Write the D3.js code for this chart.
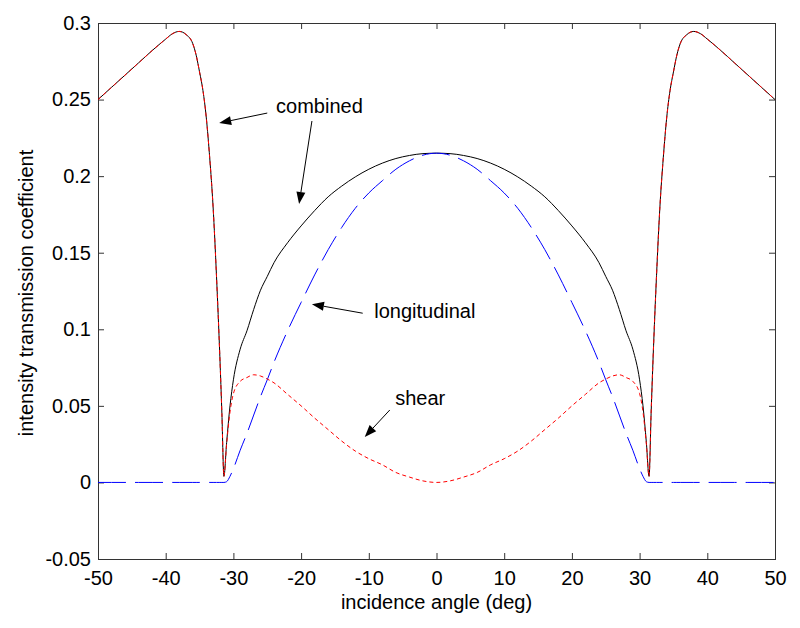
<!DOCTYPE html>
<html><head><meta charset="utf-8">
<script src="https://cdn.jsdelivr.net/npm/d3@7/dist/d3.min.js"></script>
<style>body{margin:0;background:#fff} text{font-family:"Liberation Sans",Arial,Helvetica,sans-serif}</style>
</head><body><svg id="c" width="800" height="628"></svg>
<script>
// ---- data ----
const angles = [-50,-48,-46,-44,-42,-40,-39,-38,-37,-36,-35.5,-35,-34.5,-34,-33.5,-33,-32.5,-32,-31.7,-31.4,-31,-30.5,-30,-29,-28,-27,-26,-25,-24,-22,-20,-18,-16,-14,-12,-10,-8,-6,-4,-2,0,
  2,4,6,8,10,12,14,16,18,20,22,24,25,26,27,28,29,30,30.5,31,31.4,31.7,32,32.5,33,33.5,34,34.5,35,35.5,36,37,38,39,40,42,44,46,48,50];
const combined = [0.250,0.258,0.266,0.274,0.282,0.2895,0.293,0.2945,0.2925,0.2865,0.279,0.268,0.256,0.238,0.212,0.180,0.135,0.082,0.045,0.004,0.026,0.050,0.067,0.087,0.099,0.113,0.1255,0.1345,0.1435,0.1565,0.1675,0.1775,0.1865,0.1935,0.1995,0.2045,0.2085,0.2115,0.2135,0.2147,0.215,
  0.2147,0.2135,0.2115,0.2085,0.2045,0.1995,0.1935,0.1865,0.1775,0.1675,0.1565,0.1435,0.1345,0.1255,0.113,0.099,0.087,0.067,0.050,0.026,0.004,0.045,0.082,0.135,0.180,0.212,0.238,0.256,0.268,0.279,0.2865,0.2925,0.2945,0.293,0.2895,0.282,0.274,0.266,0.258,0.250];
const longitudinal = [0,0,0,0,0,0,0,0,0,0,0,0,0,0,0,0,0,0,0,0,0.0005,0.004,0.009,0.021,0.032,0.044,0.056,0.067,0.0785,0.099,0.1175,0.1355,0.152,0.1665,0.179,0.189,0.197,0.2045,0.2100,0.2137,0.215,
  0.2137,0.2100,0.2045,0.197,0.189,0.179,0.1665,0.152,0.1355,0.1175,0.099,0.0785,0.067,0.056,0.044,0.032,0.021,0.009,0.004,0.0005,0,0,0,0,0,0,0,0,0,0,0,0,0,0,0,0,0,0,0,0];
const shear = [0.250,0.258,0.266,0.274,0.282,0.2895,0.293,0.2945,0.2925,0.2865,0.279,0.268,0.256,0.238,0.212,0.180,0.135,0.082,0.045,0.004,0.025,0.046,0.058,0.066,0.0685,0.0703,0.0695,0.0675,0.065,0.0575,0.050,0.042,0.0345,0.027,0.0205,0.0155,0.0115,0.0065,0.0035,0.001,0,
  0.001,0.0035,0.0065,0.0115,0.0155,0.0205,0.027,0.0345,0.042,0.050,0.0575,0.065,0.0675,0.0695,0.0703,0.0685,0.066,0.058,0.046,0.025,0.004,0.045,0.082,0.135,0.180,0.212,0.238,0.256,0.268,0.279,0.2865,0.2925,0.2945,0.293,0.2895,0.282,0.274,0.266,0.258,0.250];
const xTicks = [-50,-40,-30,-20,-10,0,10,20,30,40,50];
const yTicks = [-0.05,0,0.05,0.1,0.15,0.2,0.25,0.3];
const xLabel = "incidence angle (deg)";
const yLabel = "intensity transmission coefficient";
const labels = ["combined","longitudinal","shear"];
const labelAt = [[-23.7,0.2412],[-9.2,0.1074],[-6.1,0.0506]];
const arrows = [[[-25.0,0.2412],[-32.1,0.2347]],[[-18.4,0.236],[-20.3,0.1818]],[[-10.9,0.1105],[-18.4,0.1164]],[[-6.9,0.0473],[-10.6,0.0297]]];

// ---- chart ----
const W=800,H=628,m={l:98,r:25,t:23,b:69};
const FS=20;
const svg=d3.select("#c");
const x=d3.scaleLinear().domain([-50,50]).range([m.l,W-m.r]);
const y=d3.scaleLinear().domain([-0.05,0.3]).range([H-m.b,m.t]);
const axCol="#333";

function styleAxis(g){
  g.select(".domain").remove();
  g.selectAll(".tick line").attr("stroke",axCol);
  g.selectAll("text").attr("font-size",FS).attr("fill","#000").attr("font-family",'"Liberation Sans",Arial,sans-serif');
}
svg.append("g").attr("transform",`translate(0,${H-m.b})`)
  .call(d3.axisBottom(x).tickValues(xTicks).tickSize(-6).tickPadding(12).tickFormat(d=>String(d))).call(styleAxis);
svg.append("g").attr("transform",`translate(0,${m.t})`)
  .call(d3.axisTop(x).tickValues(xTicks).tickSize(-6).tickFormat("")).call(styleAxis);
svg.append("g").attr("transform",`translate(${m.l},0)`)
  .call(d3.axisLeft(y).tickValues(yTicks).tickSize(-6).tickPadding(7).tickFormat(d=>String(+d.toFixed(2)))).call(styleAxis);
svg.append("g").attr("transform",`translate(${W-m.r},0)`)
  .call(d3.axisRight(y).tickValues(yTicks).tickSize(-6).tickFormat("")).call(styleAxis);

svg.append("rect").attr("x",m.l+0.5).attr("y",m.t+0.5).attr("width",W-m.l-m.r).attr("height",H-m.t-m.b)
  .attr("fill","none").attr("stroke",axCol).attr("stroke-width",1);

svg.append("clipPath").attr("id","pc").append("rect").attr("x",m.l).attr("y",m.t).attr("width",W-m.l-m.r+1).attr("height",H-m.t-m.b);
const line=(vals)=>d3.line().x((d,i)=>x(angles[i])).y((d,i)=>y(vals[i])).curve(d3.curveMonotoneX)(vals);
const plot=svg.append("g").attr("clip-path","url(#pc)");
plot.append("path").attr("d",line(combined)).attr("fill","none").attr("stroke","#000").attr("stroke-width",1);
plot.append("path").attr("d",line(longitudinal)).attr("fill","none").attr("stroke","#0000ff").attr("stroke-width",1).attr("stroke-dasharray","28,9");
plot.append("path").attr("d",line(shear)).attr("fill","none").attr("stroke","#ff0000").attr("stroke-width",1).attr("stroke-dasharray","4,3");

// labels
labels.forEach((t,i)=>{
  svg.append("text").attr("x",x(labelAt[i][0])).attr("y",y(labelAt[i][1])).attr("font-size",FS).text(t);
});
// arrows
arrows.forEach(a=>{
  const x1=x(a[0][0]),y1=y(a[0][1]),x2=x(a[1][0]),y2=y(a[1][1]);
  const dx=x2-x1,dy=y2-y1,L=Math.hypot(dx,dy),ux=dx/L,uy=dy/L;
  const hl=12,hw=4.5;
  const bx=x2-ux*hl,by=y2-uy*hl;
  svg.append("line").attr("x1",x1).attr("y1",y1).attr("x2",bx).attr("y2",by).attr("stroke","#000").attr("stroke-width",1);
  svg.append("path").attr("d",`M${x2},${y2}L${bx-uy*hw},${by+ux*hw}L${bx+uy*hw},${by-ux*hw}Z`).attr("fill","#000");
});

svg.append("text").attr("x",(m.l+W-m.r)/2).attr("y",609).attr("text-anchor","middle").attr("font-size",FS).text(xLabel);
svg.append("text").attr("transform",`translate(33,${(m.t+H-m.b)/2+2}) rotate(-90)`).attr("text-anchor","middle").attr("font-size",FS).text(yLabel);
</script></body></html>
